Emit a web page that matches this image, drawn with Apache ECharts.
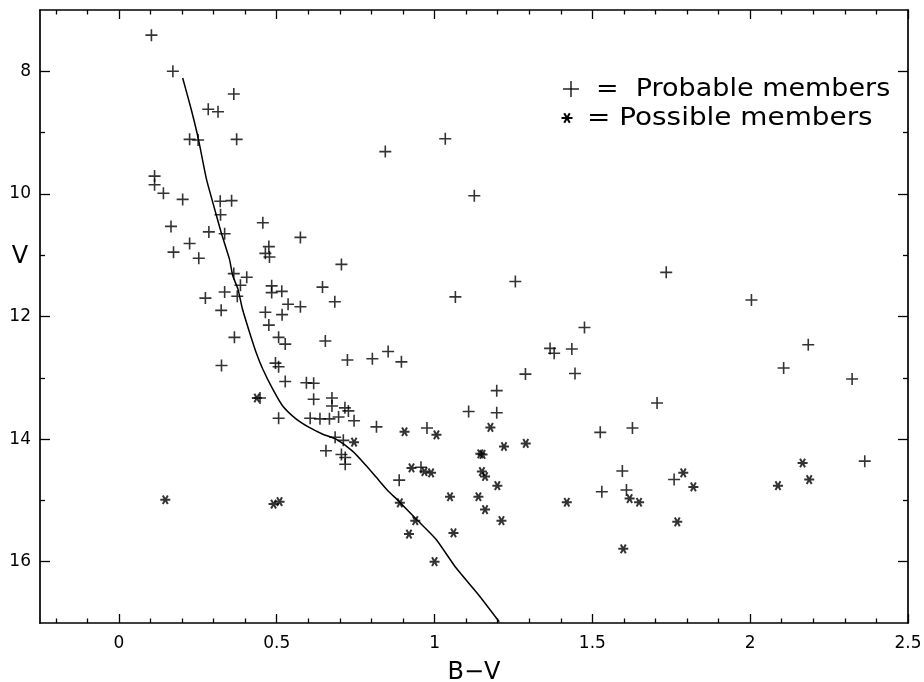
<!DOCTYPE html>
<html>
<head>
<meta charset="utf-8">
<script src="https://cdn.jsdelivr.net/npm/echarts@6/dist/echarts.min.js"></script>
<style>
  html, body { margin: 0; padding: 0; background: #fff; }
  #chart { width: 924px; height: 682px; }
</style>
</head>
<body>
<div id="chart"></div>
<script>
// Colour–magnitude diagram: V against B−V for cluster members.

// Tick values for the axes
const xTickValues = [0, 0.5, 1, 1.5, 2, 2.5];
const yTickValues = [8, 10, 12, 14, 16];
const yMinorTicks = [9, 11, 13, 15];

// Probable members: [B−V, V]
const probableMembers = [
  [0.103, 7.41], [0.171, 8.00], [0.364, 8.37], [0.283, 8.62], [0.314, 8.66],
  [0.224, 9.11], [0.251, 9.12], [0.373, 9.11], [0.844, 9.31], [1.034, 9.10],
  [0.113, 9.71], [0.113, 9.85], [0.141, 9.99], [1.126, 10.03], [0.202, 10.09],
  [0.321, 10.12], [0.357, 10.11], [0.322, 10.34], [0.456, 10.47], [0.165, 10.53],
  [0.285, 10.62], [0.335, 10.65], [0.575, 10.71], [0.224, 10.81], [0.475, 10.86],
  [0.173, 10.95], [0.464, 10.97], [0.477, 11.03], [0.253, 11.05], [0.705, 11.15],
  [1.734, 11.28], [0.364, 11.30], [0.405, 11.36], [1.256, 11.43], [0.385, 11.49],
  [0.484, 11.50], [0.645, 11.52], [0.484, 11.61], [0.516, 11.59], [0.335, 11.60],
  [0.375, 11.67], [0.274, 11.70], [1.066, 11.68], [2.004, 11.73], [0.684, 11.76],
  [0.536, 11.80], [0.575, 11.84], [0.324, 11.90], [0.464, 11.93], [0.517, 11.97],
  [0.475, 12.14], [1.475, 12.18], [0.366, 12.34], [0.506, 12.34], [0.654, 12.40],
  [0.527, 12.45], [2.184, 12.46], [1.366, 12.52], [1.435, 12.53], [0.853, 12.57],
  [1.379, 12.60], [0.803, 12.69], [0.724, 12.71], [0.895, 12.74], [0.325, 12.80],
  [0.496, 12.76], [0.506, 12.82], [2.106, 12.84], [1.445, 12.93], [1.288, 12.94],
  [2.323, 13.02], [0.527, 13.06], [0.594, 13.08], [0.617, 13.09], [1.197, 13.21],
  [0.447, 13.33], [0.617, 13.35], [0.675, 13.33], [1.705, 13.41], [0.675, 13.46],
  [0.716, 13.49], [0.727, 13.54], [1.108, 13.55], [1.197, 13.57], [0.506, 13.66],
  [0.606, 13.66], [0.637, 13.67], [0.667, 13.67], [0.696, 13.64], [0.745, 13.70],
  [0.816, 13.80], [0.976, 13.82], [1.627, 13.82], [1.525, 13.89], [0.685, 13.97],
  [0.711, 14.02], [0.656, 14.19], [0.705, 14.25], [0.717, 14.30], [0.717, 14.41],
  [2.363, 14.36], [0.957, 14.46], [1.595, 14.52], [1.759, 14.66], [0.888, 14.67],
  [1.608, 14.83], [1.530, 14.86]
];

// Possible members: [B−V, V]
const possibleMembers = [
  [0.147, 14.99], [0.437, 13.33], [0.490, 15.06], [0.509, 15.02], [0.745, 14.05],
  [0.905, 13.88], [1.006, 13.93], [1.177, 13.81], [1.145, 14.24], [1.152, 14.25],
  [1.220, 14.12], [1.289, 14.07], [0.927, 14.47], [0.968, 14.53], [0.989, 14.55],
  [1.150, 14.53], [1.160, 14.61], [1.199, 14.76], [1.049, 14.94], [1.139, 14.94],
  [1.160, 15.15], [1.212, 15.33], [0.890, 15.04], [0.939, 15.33], [0.919, 15.55],
  [1.060, 15.53], [1.000, 16.00], [1.419, 15.03], [1.618, 14.97], [1.648, 15.03],
  [1.598, 15.79], [1.788, 14.55], [1.820, 14.78], [1.769, 15.35], [2.088, 14.76],
  [2.166, 14.39], [2.187, 14.66]
];

// Main-sequence reference curve: [B−V, V]
const mainSequence = [
  [0.202, 8.11], [0.229, 8.62], [0.252, 9.11], [0.277, 9.75], [0.298, 10.15],
  [0.324, 10.63], [0.350, 11.06], [0.361, 11.34], [0.377, 11.55], [0.391, 11.87],
  [0.414, 12.26], [0.435, 12.59], [0.456, 12.86], [0.487, 13.18], [0.519, 13.46],
  [0.561, 13.67], [0.603, 13.81], [0.646, 13.92], [0.688, 14.00], [0.741, 14.20],
  [0.783, 14.43], [0.815, 14.62], [0.850, 14.83], [0.888, 15.02], [0.941, 15.30],
  [1.004, 15.63], [1.068, 16.10], [1.141, 16.55], [1.205, 16.98]
];

// Minor tick positions every 0.1 on the colour axis
const xMinorTicks = [];
for (let i = -2; i <= 24; i++) {
  if (i % 5 !== 0) xMinorTicks.push(i / 10);
}

const FONT = 'DejaVu Sans';
const INK = '#000';

// Filled "+" marker
const plusPath = 'path://M0,5.2H12V6.8H0Z M5.2,0H6.8V12H5.2Z';

// Six-armed asterisk marker built from three thin bars
function barPath(angleDeg, L, w) {
  const a = angleDeg * Math.PI / 180, c = Math.cos(a), s = Math.sin(a);
  const pts = [[-L, -w], [L, -w], [L, w], [-L, w]].map(([x, y]) =>
    [(x * c - y * s + 6).toFixed(3), (x * s + y * c + 6).toFixed(3)]);
  return 'M' + pts.map(p => p.join(',')).join('L') + 'Z';
}
const starPath = 'path://' + [0, 60, 120].map(a => barPath(a, 5.5, 1.1)).join(' ');

// Asterisk for the key, drawn as three strokes around a centre point
function keyStar(cx, cy, r) {
  return [0, 60, 120].map(a => {
    const t = a * Math.PI / 180;
    return { type: 'line',
      shape: { x1: cx - r * Math.cos(t), y1: cy - r * Math.sin(t),
               x2: cx + r * Math.cos(t), y2: cy + r * Math.sin(t) },
      style: { stroke: INK, lineWidth: 2 } };
  });
}

const xRange = { min: -0.25, max: 2.5 };
const yRange = { min: 7, max: 17 };

function xAxisDef(position, ticks, len, showLine, showLabels) {
  return {
    type: 'value', position, ...xRange,
    axisLine: { show: showLine, onZero: false, lineStyle: { color: INK, width: 1.7 } },
    axisTick: { show: true, inside: true, length: len, customValues: ticks,
                lineStyle: { color: INK, width: 1.3 } },
    axisLabel: { show: showLabels, customValues: ticks, margin: 12,
                 color: INK, fontFamily: FONT, fontSize: 17 },
    splitLine: { show: false }
  };
}
function yAxisDef(position, ticks, len, showLine, showLabels) {
  return {
    type: 'value', position, inverse: true, ...yRange,
    axisLine: { show: showLine, onZero: false, lineStyle: { color: INK, width: 1.7 } },
    axisTick: { show: true, inside: true, length: len, customValues: ticks,
                lineStyle: { color: INK, width: 1.3 } },
    axisLabel: { show: showLabels, customValues: ticks, margin: 9,
                 color: INK, fontFamily: FONT, fontSize: 17 },
    splitLine: { show: false }
  };
}

const xMain = xAxisDef('bottom', xTickValues, 9, true, true);
xMain.name = 'B\u2212V';
xMain.nameLocation = 'middle';
xMain.nameGap = 38;
xMain.nameTextStyle = { color: INK, fontFamily: FONT, fontSize: 24 };

const option = {
  backgroundColor: '#fff',
  animation: false,
  grid: { left: 40, right: 16, top: 10, bottom: 59, containLabel: false,
          outerBoundsMode: 'none' },
  xAxis: [
    xMain,
    xAxisDef('bottom', xMinorTicks, 4.5, false, false),
    xAxisDef('top', xTickValues, 9, true, false),
    xAxisDef('top', xMinorTicks, 4.5, false, false)
  ],
  yAxis: [
    yAxisDef('left', yTickValues, 10, true, true),
    yAxisDef('left', yMinorTicks, 5, false, false),
    yAxisDef('right', yTickValues, 10, true, false),
    yAxisDef('right', yMinorTicks, 5, false, false)
  ],
  series: [
    {
      name: 'Main sequence', type: 'line', data: mainSequence,
      xAxisIndex: 0, yAxisIndex: 0,
      showSymbol: false, smooth: 0.2,
      lineStyle: { color: INK, width: 1.5 }, z: 1
    },
    {
      name: 'Probable members', type: 'scatter', data: probableMembers,
      xAxisIndex: 0, yAxisIndex: 0,
      symbol: plusPath, symbolSize: 12,
      itemStyle: { color: INK }, z: 3
    },
    {
      name: 'Possible members', type: 'scatter', data: possibleMembers,
      xAxisIndex: 0, yAxisIndex: 0,
      symbol: starPath, symbolSize: 10, symbolKeepAspect: true,
      itemStyle: { color: INK }, z: 3
    }
  ],
  graphic: [
    // y-axis title
    { type: 'text', x: 20, y: 257,
      style: { text: 'V', fill: INK, font: '24px "DejaVu Sans"',
               textAlign: 'center', textVerticalAlign: 'middle' } },
    // key: probable members
    { type: 'line', shape: { x1: 563, y1: 89, x2: 579, y2: 89 },
      style: { stroke: INK, lineWidth: 1.3 } },
    { type: 'line', shape: { x1: 571, y1: 81, x2: 571, y2: 97 },
      style: { stroke: INK, lineWidth: 1.3 } },
    { type: 'text', x: 596, y: 89, scaleX: 1.08,
      style: { text: '=  Probable members', fill: INK, font: '25px "DejaVu Sans"',
               textVerticalAlign: 'middle' } },
    // key: possible members
    ...keyStar(567, 118, 5.5),
    { type: 'text', x: 587, y: 118, scaleX: 1.115,
      style: { text: '= Possible members', fill: INK, font: '25px "DejaVu Sans"',
               textVerticalAlign: 'middle' } }
  ]
};

const chart = echarts.init(document.getElementById('chart'), null, { renderer: 'canvas' });
chart.setOption(option);
</script>
</body>
</html>
